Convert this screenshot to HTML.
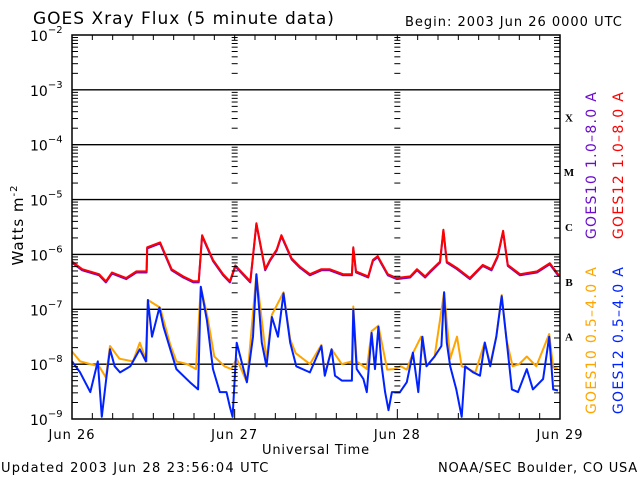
<!DOCTYPE html>
<html><head><meta charset="utf-8"><style>
html,body{margin:0;padding:0;background:#fff;}
svg{display:block;font-family:"DejaVu Sans","Liberation Sans",sans-serif;}
</style></head><body>
<svg id="chart" width="640" height="480" viewBox="0 0 640 480" xmlns="http://www.w3.org/2000/svg">
<rect x="0" y="0" width="640" height="480" fill="#fff"/>
<text x="33" y="24" font-size="17" letter-spacing="1">GOES Xray Flux (5 minute data)</text>
<text x="405" y="26" font-size="13" letter-spacing="1">Begin:  2003 Jun 26 0000 UTC</text>
<text transform="translate(23,225) rotate(-90)" text-anchor="middle" font-size="15" letter-spacing="1">Watts m<tspan font-size="10" dy="-6">-2</tspan></text>
<text x="316" y="454" text-anchor="middle" font-size="13" letter-spacing="0.8">Universal Time</text>
<text x="1" y="472" font-size="13" letter-spacing="1.2">Updated 2003 Jun 28 23:56:04 UTC</text>
<text x="638" y="472" text-anchor="end" font-size="13" letter-spacing="0.8">NOAA/SEC Boulder, CO USA</text>
<g><text transform="translate(596,165) rotate(-90)" text-anchor="middle" font-size="14" letter-spacing="1.3" fill="#6a0dcc">GOES10 1.0–8.0 A</text></g>
<g><text transform="translate(623,165) rotate(-90)" text-anchor="middle" font-size="14" letter-spacing="1.3" fill="#ff0000">GOES12 1.0–8.0 A</text></g>
<g><text transform="translate(596,340) rotate(-90)" text-anchor="middle" font-size="14" letter-spacing="1.3" fill="#ffa500">GOES10 0.5–4.0 A</text></g>
<g><text transform="translate(623,340) rotate(-90)" text-anchor="middle" font-size="14" letter-spacing="1.3" fill="#0022ff">GOES12 0.5–4.0 A</text></g>
<g id="axes"></g>
<g id="series"></g>
<g id="frame"></g>
</svg>
<script>
const dayLabels = ["Jun 26","Jun 27","Jun 28","Jun 29"];
const decades = [-2,-3,-4,-5,-6,-7,-8,-9];
const classLetters = ["X","M","C","B","A"];
const classExps = [-3.5,-4.5,-5.5,-6.5,-7.5];

const g12LongT = [0,1.5,4,5,5.9,8,9.5,11,11.1,13,14.7,16.4,17.9,18.7,19.2,20.8,22.3,23.3,24.1,26.3,27.2,28.5,29.2,30.2,30.9,32.4,33.6,35.1,36.8,38,40,41.3,41.5,41.9,43.7,44.4,45.1,46.6,47.9,49.9,50.9,52.1,52.8,54.3,54.8,55.3,56.8,58.7,60.6,61.9,62.8,63.6,64.3,66.1,68.6,70.5,71.7,72];
const g12LongV = [-6.13,-6.27,-6.36,-6.49,-6.33,-6.43,-6.31,-6.31,-5.87,-5.78,-6.27,-6.40,-6.49,-6.49,-5.65,-6.10,-6.36,-6.49,-6.20,-6.49,-5.43,-6.27,-6.10,-5.91,-5.65,-6.07,-6.22,-6.36,-6.27,-6.27,-6.36,-6.36,-5.87,-6.31,-6.40,-6.10,-6.03,-6.36,-6.43,-6.40,-6.27,-6.40,-6.31,-6.13,-5.55,-6.13,-6.25,-6.43,-6.19,-6.27,-6.03,-5.57,-6.19,-6.36,-6.31,-6.16,-6.36,-6.38];
const g10LongV = [-6.15,-6.29,-6.38,-6.51,-6.35,-6.45,-6.33,-6.33,-5.89,-5.80,-6.29,-6.42,-6.51,-6.51,-5.67,-6.12,-6.38,-6.51,-6.22,-6.51,-5.45,-6.29,-6.12,-5.93,-5.67,-6.09,-6.24,-6.38,-6.29,-6.29,-6.38,-6.38,-5.89,-6.33,-6.42,-6.12,-6.05,-6.38,-6.45,-6.42,-6.29,-6.42,-6.33,-6.15,-5.57,-6.15,-6.27,-6.45,-6.21,-6.29,-6.05,-5.59,-6.21,-6.38,-6.33,-6.18,-6.38,-6.40];

const g12ShortT = [0,1.2,2.7,3.8,4.4,5.1,5.6,6.3,7.1,8.6,10,10.9,11.2,11.8,12.9,13.5,14.5,15.4,17.4,18.6,19,19.9,20.8,21.8,22.8,23.3,23.7,24.3,25.8,26.7,27.2,28,28.7,29.5,30.4,31.2,32.2,33.1,35.1,36.8,37.3,38.3,38.8,39.8,41.3,41.5,42,43,43.5,44.2,44.7,45.2,45.7,46.2,46.7,47.2,48.4,49.4,50.3,51.1,51.7,52.3,53.5,54.5,54.9,55.3,55.8,56.7,57.5,58,59.2,60.2,60.9,61.7,62.6,63.4,64.1,64.9,65.8,67.1,68,69.5,70.4,71,71.7];
const g12ShortV = [-7.95,-8.15,-8.51,-7.95,-8.96,-8.21,-7.73,-8.04,-8.15,-8.04,-7.73,-7.95,-6.83,-7.50,-6.97,-7.32,-7.73,-8.09,-8.33,-8.46,-6.59,-7.20,-8.09,-8.51,-8.51,-8.78,-8.96,-7.61,-8.33,-7.50,-6.36,-7.61,-8.04,-7.14,-7.50,-6.71,-7.61,-8.04,-8.15,-7.67,-8.21,-7.73,-8.21,-8.30,-8.30,-7.00,-8.09,-8.27,-8.51,-7.43,-8.09,-7.32,-8.04,-8.51,-8.84,-8.51,-8.51,-8.33,-7.79,-8.51,-7.50,-8.04,-7.86,-7.67,-6.69,-7.61,-8.04,-8.46,-8.96,-8.04,-8.15,-8.21,-7.61,-8.04,-7.50,-6.76,-7.55,-8.46,-8.51,-8.09,-8.46,-8.27,-7.50,-8.46,-8.48];

const g10ShortT = [0,1.2,2.7,4,5,5.6,7,9,10,11,11.2,13,14.5,15.4,17,18.3,19,20,21,22.5,23.5,24.3,25.8,27.2,28.7,29.5,31.2,32.2,33,35.1,36.8,37.3,38.3,39.8,41.3,41.5,42,43,43.5,44.2,45.2,46.5,47.5,48.5,49.4,50.3,51.5,52.3,53.5,54.9,55.8,56.8,57.5,58.5,59.5,60.9,61.7,62.6,63.4,64.1,65,66,67.1,68.5,70.4,71,71.7];
const g10ShortV = [-7.77,-7.95,-8.00,-8.04,-8.24,-7.67,-7.90,-7.95,-7.61,-7.95,-6.83,-6.97,-7.65,-7.95,-8.00,-8.09,-6.59,-7.15,-7.86,-8.04,-8.09,-7.90,-8.33,-6.36,-7.93,-7.10,-6.69,-7.55,-7.80,-8.00,-7.65,-8.18,-7.73,-8.00,-7.95,-6.95,-7.95,-8.04,-8.09,-7.40,-7.30,-8.10,-8.09,-8.04,-8.10,-7.80,-7.50,-8.04,-7.86,-6.69,-7.90,-7.50,-8.04,-8.09,-8.15,-7.60,-8.00,-7.50,-6.74,-7.55,-8.04,-8.00,-7.86,-8.04,-7.45,-8.06,-8.09];

const NS = "http://www.w3.org/2000/svg";
const X0 = 72, X1 = 560, Y0 = 35, Y1 = 419;
function xs(h){ return X0 + (X1 - X0) * h / 72; }
function ys(e){ return Y0 + (Y1 - Y0) * (-2 - e) / 7; }
function mk(tag, attrs, parent){ const el = document.createElementNS(NS, tag); for (const k in attrs) el.setAttribute(k, attrs[k]); parent.appendChild(el); return el; }
const axes = document.getElementById("axes");
const frame = document.getElementById("frame");
const series = document.getElementById("series");

decades.forEach(function(d){
  if (d === -2 || d === -9) return;
  const l = mk("line", {x1:X0, x2:X1, y1:ys(d), y2:ys(d), stroke:"#000", "stroke-width":1.4}, axes);
  
  
});
decades.forEach(function(d){
  const t = mk("text", {x:30, y:ys(d)+6, "font-size":14}, axes);
  
  
  t.textContent = "10";
  const s = mk("tspan", {dy:-8, "font-size":10}, t);
  s.textContent = String(d).replace("-", "−");
});
function logTicks(x, dir, name){
  for (let d = -9; d < -2; d++){
    for (let m = 2; m <= 9; m++){
      const e = d + Math.log10(m);
      const y = ys(e);
      const l = mk("line", {x1:x, x2:x + dir*6, y1:y, y2:y, stroke:"#000", "stroke-width":1}, frame);
      
      
    }
  }
}
logTicks(X0, 1, 'left-minor-tick');
logTicks(X1, -1, 'right-minor-tick');
[1,2].forEach(function(day){
  const x = xs(day*24);
  logTicks(x - 3, 1, 'day-marker-tick');
});
for (let h = 3; h < 72; h += 3){
  const x = xs(h);
  const lt = mk("line", {x1:x, x2:x, y1:Y0, y2:Y0+5, stroke:"#000", "stroke-width":1}, frame);
  
  
  const lb = mk("line", {x1:x, x2:x, y1:Y1, y2:Y1-(h%24===0?10:6), stroke:"#000", "stroke-width":1}, frame);
  
  
}
dayLabels.forEach(function(lab, i){
  const t = mk("text", {x:xs(i*24), y:439, "text-anchor":"middle", "font-size":13, "letter-spacing":1}, axes);
  
  
  t.textContent = lab;
});
classLetters.forEach(function(c, i){
  const t = mk("text", {x:569, y:ys(classExps[i])+4, "text-anchor":"middle", "font-size":11, "font-weight":"bold", "font-family":"Liberation Serif, serif"}, axes);
  
  
  t.textContent = c;
});
const fr = mk("rect", {x:X0, y:Y0, width:X1-X0, height:Y1-Y0, fill:"none", stroke:"#000", "stroke-width":1.5}, frame);



function drawSeries(T, V, color, name){
  let pts = [];
  for (let i = 0; i < T.length; i++){
    const e = Math.max(-9.05, V[i]);
    pts.push(xs(T[i]).toFixed(1) + "," + ys(e).toFixed(1));
  }
  const p = mk("polyline", {points:pts.join(" "), fill:"none", stroke:color, "stroke-width":2, "stroke-linejoin":"round"}, series);
  
  
}
drawSeries(g12LongT, g10LongV, "#6a0dcc", 'series-goes10-long');
drawSeries(g12LongT, g12LongV, "#ff0000", 'series-goes12-long');
drawSeries(g10ShortT, g10ShortV, "#ffa500", 'series-goes10-short');
drawSeries(g12ShortT, g12ShortV, "#0022ff", 'series-goes12-short');
</script>
</body></html>
